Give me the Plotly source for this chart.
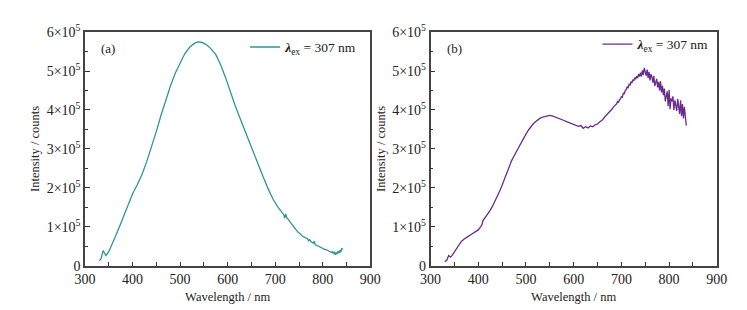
import plotly.graph_objects as go

# ---------------- data ----------------
a_wl = [330, 334, 338, 341, 344, 350, 357, 365, 375, 385, 392, 400, 410, 420, 430, 440, 450,
        460, 470, 480, 490, 500, 510, 520, 530, 537, 545, 555, 565, 575, 585, 595, 605,
        615, 625, 635, 645, 655, 665, 675, 685, 695, 705,
        712, 716, 718, 720, 722, 724, 728, 732, 736, 740, 744, 748, 752, 756, 760, 764, 768, 770,
        772, 776, 780, 782, 784, 788, 792, 796, 800, 804, 808, 812, 816, 818, 820, 822,
        824, 826, 828, 830, 832, 834, 836, 838, 840, 842]
a_int = [0.13, 0.18, 0.39, 0.30, 0.26, 0.36, 0.54, 0.78, 1.08, 1.38, 1.60, 1.85, 2.08, 2.35, 2.68, 3.05, 3.45,
         3.87, 4.27, 4.63, 4.95, 5.22, 5.45, 5.61, 5.71, 5.75, 5.74, 5.68, 5.57, 5.42, 5.17, 4.85, 4.48,
         4.14, 3.82, 3.50, 3.20, 2.90, 2.58, 2.27, 1.98, 1.72, 1.52,
         1.40, 1.35, 1.31, 1.22, 1.33, 1.24, 1.17, 1.10, 1.04, 0.97, 0.92, 0.86, 0.83, 0.77, 0.74, 0.70, 0.69, 0.64,
         0.67, 0.61, 0.58, 0.63, 0.54, 0.52, 0.49, 0.47, 0.44, 0.42, 0.41, 0.38, 0.37, 0.34, 0.36, 0.32,
         0.36, 0.28, 0.34, 0.30, 0.37, 0.32, 0.40, 0.35, 0.45, 0.42]

b_wl = [330, 334, 338, 342, 346, 350, 355, 360, 365, 370, 375, 380, 385, 390, 395, 400, 405, 408,
        410, 415, 420, 425, 430, 435, 440, 445, 450, 455, 460, 465, 470, 475, 480, 485, 490, 495,
        500, 505, 510, 515, 520, 525, 530, 535, 540, 545, 550, 555, 560, 565, 570, 575, 580, 585,
        590, 595, 600, 605, 610, 615, 620, 625, 630, 635, 640, 645, 650, 655, 660, 665, 670, 675,
        680, 685,
        690, 692, 694, 696, 698, 700, 702, 704, 706, 708, 710, 712, 714, 716, 718, 720, 722, 724,
        726, 728, 730, 732, 734, 736, 738, 740, 742, 744, 746, 748, 750, 752, 754, 756, 758, 760,
        762, 764, 766, 768, 770, 772, 774, 776, 778, 780, 782, 784, 786, 788, 790, 792, 794, 796,
        798, 800, 802, 804, 806, 808, 810, 812, 814, 816, 818, 820, 822, 824, 826, 828, 830, 832,
        834, 836]
b_int = [0.10, 0.14, 0.26, 0.22, 0.28, 0.36, 0.46, 0.56, 0.63, 0.68, 0.73, 0.76, 0.80, 0.84, 0.88, 0.92, 1.00, 1.06,
         1.16, 1.24, 1.32, 1.42, 1.53, 1.65, 1.77, 1.92, 2.07, 2.24, 2.41, 2.56, 2.70, 2.82, 2.94, 3.06, 3.18, 3.29,
         3.38, 3.48, 3.57, 3.64, 3.70, 3.75, 3.79, 3.82, 3.84, 3.86, 3.86, 3.85, 3.83, 3.80, 3.78, 3.76, 3.73, 3.70,
         3.68, 3.66, 3.63, 3.60, 3.58, 3.60, 3.53, 3.57, 3.54, 3.59, 3.57, 3.62, 3.64, 3.70, 3.74, 3.82, 3.88, 3.96,
         4.02, 4.10,
         4.16, 4.22, 4.19, 4.27, 4.28, 4.35, 4.32, 4.44, 4.41, 4.50, 4.52, 4.60, 4.56, 4.66, 4.64, 4.73, 4.69, 4.78,
         4.75, 4.83, 4.79, 4.87, 4.82, 4.92, 4.86, 4.96, 4.86, 5.02, 4.90, 5.08, 4.95, 4.88, 5.04, 4.82, 4.98, 4.76,
         4.92, 4.85, 4.70, 4.88, 4.62, 4.75, 4.80, 4.58, 4.72, 4.50, 4.74, 4.45, 4.62, 4.38, 4.55, 4.22, 4.40, 4.48,
         4.10, 4.52, 4.02, 4.30, 4.22, 4.35, 4.00, 4.25, 4.12, 3.98, 4.28, 4.05, 3.90, 4.25, 3.85, 4.15, 3.78, 4.08,
         3.70, 3.60]

scale = 1e5
y_tickvals = [0, 1, 2, 3, 4, 5, 6]
y_ticktext = ["0"] + [f"{v}×10<sup>5</sup>" for v in y_tickvals[1:]]
x_tickvals = [300, 400, 500, 600, 700, 800, 900]
legend_label = "<i><b>λ</b></i><sub>ex</sub> = 307 nm"
panel_labels = ["(a)", "(b)"]
colors = ["#2e9692", "#6b2b8e"]

FONT = "Liberation Serif, Times New Roman, serif"

fig = go.Figure()
fig.add_trace(go.Scatter(x=a_wl, y=[v * scale for v in a_int], mode="lines",
                         line=dict(color=colors[0], width=1.3), name=legend_label,
                         xaxis="x", yaxis="y", legend="legend"))
fig.add_trace(go.Scatter(x=b_wl, y=[v * scale for v in b_int], mode="lines",
                         line=dict(color=colors[1], width=1.3), name=legend_label,
                         xaxis="x2", yaxis="y2", legend="legend2"))

def xaxis(domain, anchor):
    return dict(domain=domain, anchor=anchor, range=[300, 900], tickvals=x_tickvals,
                ticks="inside", ticklen=4, tickwidth=1, tickcolor="#333",
                minor=dict(dtick=50, tick0=300, ticks="inside", ticklen=4, tickwidth=1, tickcolor="#333"),
                showline=True, linecolor="#444", linewidth=1.5, mirror=True,
                showgrid=False, zeroline=False,
                tickfont=dict(family=FONT, size=14, color="#222"),
                title=dict(text="Wavelength / nm", font=dict(family=FONT, size=12.5, color="#222"), standoff=6))

def yaxis(domain, anchor):
    return dict(domain=domain, anchor=anchor, range=[0, 6 * scale],
                tickvals=[v * scale for v in y_tickvals], ticktext=y_ticktext,
                ticks="inside", ticklen=5, tickwidth=1, tickcolor="#333",
                minor=dict(dtick=0.5 * scale, tick0=0, ticks="inside", ticklen=3, tickwidth=1, tickcolor="#333"),
                showline=True, linecolor="#444", linewidth=1.5, mirror=True,
                showgrid=False, zeroline=False,
                tickfont=dict(family=FONT, size=14, color="#222"),
                title=dict(text="Intensity / counts", font=dict(family=FONT, size=12.5, color="#222"), standoff=4))

ydom = [1 - 263 / 310, 1 - 15 / 310]
fig.update_layout(
    width=747, height=310, margin=dict(l=0, r=0, t=0, b=0),
    paper_bgcolor="white", plot_bgcolor="white",
    font=dict(family=FONT, color="#222"),
    xaxis=xaxis([68 / 747, 362 / 747], "y"),
    yaxis=yaxis(ydom, "x"),
    xaxis2=xaxis([424 / 747, 719 / 747], "y2"),
    yaxis2=yaxis(ydom, "x2"),
    legend=dict(x=233 / 747, y=1 - 31 / 310, xanchor="left", yanchor="middle",
                bgcolor="rgba(0,0,0,0)", font=dict(family=FONT, size=13.5, color="#222"),
                itemwidth=30, tracegroupgap=0),
    legend2=dict(x=596 / 747, y=1 - 28 / 310, xanchor="left", yanchor="middle",
                 bgcolor="rgba(0,0,0,0)", font=dict(family=FONT, size=13.5, color="#222"),
                 itemwidth=30, tracegroupgap=0),
    showlegend=True,
    annotations=[
        dict(text=panel_labels[0], xref="x domain", yref="y domain", x=0.05, y=0.93,
             xanchor="left", yanchor="middle", showarrow=False,
             font=dict(family=FONT, size=13, color="#222")),
        dict(text=panel_labels[1], xref="x2 domain", yref="y2 domain", x=0.05, y=0.93,
             xanchor="left", yanchor="middle", showarrow=False,
             font=dict(family=FONT, size=13, color="#222")),
    ],
)

fig.write_html("out.html")
